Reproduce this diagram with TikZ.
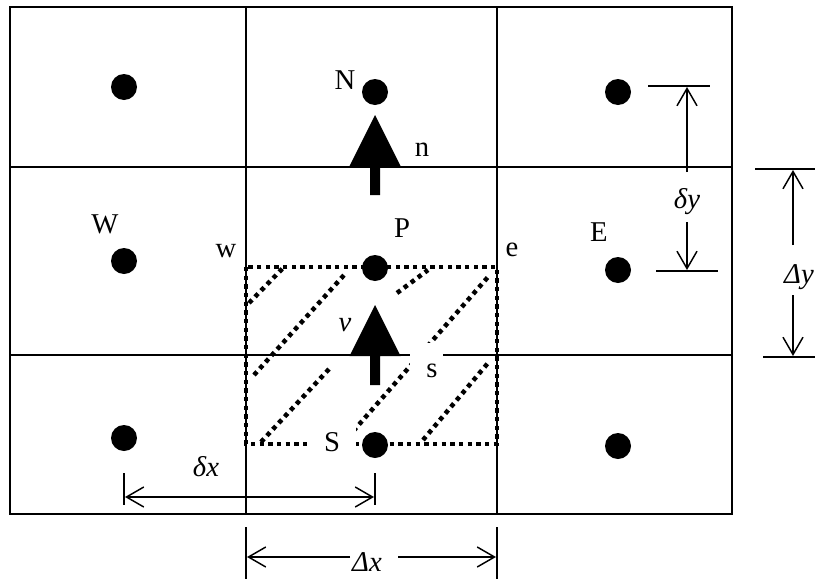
\documentclass[tikz,border=0pt]{standalone}
\usepackage{fontspec}
\setmainfont{Liberation Serif}
\usetikzlibrary{arrows.meta}
\begin{document}
\begin{tikzpicture}[x=0.75pt,y=-0.75pt,
  grid/.style={line width=1.4pt},
  dotline/.style={line width=3.4pt, dash pattern=on 3.3pt off 3.2pt},
  pt/.style={circle, fill=black, inner sep=0pt, minimum size=19.5pt},
  lbl/.style={inner sep=0pt, font=\fontsize{21.5}{25}\selectfont},
  dim/.style={line width=1.1pt, -{Straight Barb[length=13pt,width=15pt]}},
  dimtick/.style={line width=1.1pt},
  flux/.pic={\fill (0,0) -- (25.5,51) -- (5,51) -- (5,80) -- (-5,80) -- (-5,51) -- (-25.5,51) -- cycle;}]
\useasboundingbox (0,0) rectangle (815,579);
% grid
\draw[grid] (10,7) rectangle (732,514);
\draw[grid] (246,7) -- (246,514) (497,7) -- (497,514);
\draw[grid] (10,167) -- (732,167) (10,355) -- (732,355);
% control volume (dotted) and hatching
\draw[dotline] (246,267) rectangle (497,444);
\draw[dotline] (249,303) -- (283,268);
\draw[dotline] (254,375) -- (345,274);
\draw[dotline] (261,442) -- (330,368);
\draw[dotline] (397,293) -- (428,270);
\draw[dotline] (342,444) -- (488,277);
\draw[dotline] (423,440) -- (488,363);
% white covers behind labels s and S
\fill[white] (410,343) rectangle (443,397);
\node[lbl, fill=white, minimum width=36pt, minimum height=30pt] (S) at (332,442) {S};
\node[lbl] (s) at (432,371) {s};
% nodes
\node[pt] (NW) at (124,87) {};
\node[pt] (N) at (375,92) {};
\node[pt] (NE) at (618,92) {};
\node[pt] (W) at (124,261) {};
\node[pt] (P) at (375,268) {};
\node[pt] (E) at (618,270) {};
\node[pt] (SW) at (124,438) {};
\node[pt] (Sd) at (375,445) {};
\node[pt] (SE) at (618,446) {};
% velocity arrows
\pic at (375,115) {flux};
\pic at (375,305) {flux};
% labels
\node[lbl] (lN) at (345,80) {N};
\node[lbl] (ln) at (422,150) {n};
\node[lbl] (lP) at (402,228) {P};
\node[lbl] (le) at (512,250) {e};
\node[lbl] (lW) at (105,224) {W};
\node[lbl] (lw) at (226,251) {w};
\node[lbl] (lE) at (599,232) {E};
\node[lbl] (lv) at (345,325) {\itshape v};
% delta y
\coordinate (dyT1) at (648,86); \coordinate (dyT2) at (710,86);
\coordinate (dyB1) at (656,271); \coordinate (dyB2) at (718,271);
\draw[dimtick] (dyT1) -- (dyT2) (dyB1) -- (dyB2);
\node[lbl] (ldy) at (687,202) {\itshape δy};
\coordinate (dyU) at (687,172); \coordinate (dyUt) at (687,87);
\coordinate (dyD) at (687,222); \coordinate (dyDt) at (687,270);
\draw[dim] (dyU) -- (dyUt);
\draw[dim] (dyD) -- (dyDt);
% Delta y
\coordinate (DyT1) at (755,169); \coordinate (DyT2) at (815,169);
\coordinate (DyB1) at (763,357); \coordinate (DyB2) at (815,357);
\draw[dimtick] (DyT1) -- (DyT2) (DyB1) -- (DyB2);
\node[lbl] (lDy) at (799,277) {\itshape Δy};
\coordinate (DyU) at (793,245); \coordinate (DyUt) at (793,170);
\coordinate (DyD) at (793,295); \coordinate (DyDt) at (793,356);
\draw[dim] (DyU) -- (DyUt);
\draw[dim] (DyD) -- (DyDt);
% delta x
\coordinate (dxL1) at (124,473); \coordinate (dxL2) at (124,505);
\coordinate (dxR1) at (375,473); \coordinate (dxR2) at (375,505);
\draw[dimtick] (dxL1) -- (dxL2) (dxR1) -- (dxR2);
\node[lbl] (ldx) at (206,467) {\itshape δx};
\coordinate (dxA) at (125,497); \coordinate (dxB) at (374,497);
\draw[dim, {Straight Barb[length=13pt,width=15pt]}-{Straight Barb[length=13pt,width=15pt]}] (dxA) -- (dxB);
% Delta x
\coordinate (DxL1) at (246,527); \coordinate (DxL2) at (246,579);
\coordinate (DxR1) at (497,527); \coordinate (DxR2) at (497,579);
\draw[dimtick] (DxL1) -- (DxL2) (DxR1) -- (DxR2);
\node[lbl] (lDx) at (367,562) {\itshape Δx};
\coordinate (DxA) at (350,557); \coordinate (DxAt) at (247,557);
\coordinate (DxB) at (398,557); \coordinate (DxBt) at (496,557);
\draw[dim] (DxA) -- (DxAt);
\draw[dim] (DxB) -- (DxBt);
\end{tikzpicture}
\end{document}
